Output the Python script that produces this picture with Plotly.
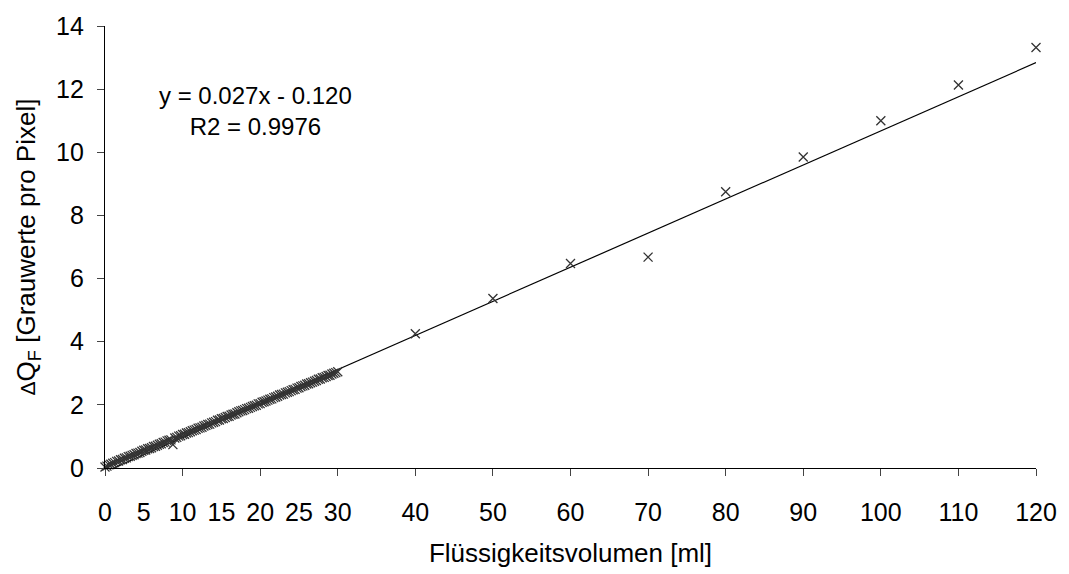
import plotly.graph_objects as go

# Messwerte: x in Messeinheiten (4 Einheiten = 1 ml), y = Delta Q_F
dense_x = list(range(0, 121))
dense_y = [
    0.03, 0.06, 0.10, 0.12, 0.15, 0.17, 0.21, 0.22, 0.26, 0.27,
    0.31, 0.32, 0.36, 0.37, 0.40, 0.42, 0.46, 0.47, 0.49, 0.53,
    0.56, 0.57, 0.61, 0.62, 0.64, 0.68, 0.69, 0.72, 0.75, 0.77,
    0.81, 0.82, 0.86, 0.88, 0.89, 0.74, 0.95, 0.97, 1.01, 1.02,
    1.06, 1.07, 1.11, 1.12, 1.15, 1.18, 1.20, 1.22, 1.26, 1.27,
    1.29, 1.33, 1.35, 1.38, 1.39, 1.43, 1.45, 1.47, 1.51, 1.52,
    1.56, 1.57, 1.60, 1.63, 1.64, 1.68, 1.70, 1.71, 1.75, 1.78,
    1.81, 1.82, 1.85, 1.88, 1.89, 1.92, 1.95, 1.97, 1.99, 2.03,
    2.04, 2.08, 2.10, 2.12, 2.15, 2.18, 2.19, 2.23, 2.25, 2.27,
    2.31, 2.33, 2.34, 2.38, 2.40, 2.42, 2.45, 2.48, 2.49, 2.53,
    2.54, 2.58, 2.60, 2.62, 2.66, 2.67, 2.70, 2.72, 2.75, 2.77,
    2.81, 2.82, 2.86, 2.87, 2.90, 2.93, 2.94, 2.98, 3.00, 3.02,
    3.05,
]
extra_x = [160, 200, 240, 280, 320, 360, 400, 440, 480]
extra_y = [4.25, 5.37, 6.48, 6.68, 8.75, 9.85, 11.00, 12.13, 13.32]

# lineare Regression (Trendlinie)
slope = 0.027
intercept = -0.120
r2 = 0.9976

# Achsenbeschriftung in ml
UNITS_PER_ML = 4
tick_ml = [0, 5, 10, 15, 20, 25, 30, 40, 50, 60, 70, 80, 90, 100, 110, 120]
x_max_ml = 120

FONT = "Arial, Liberation Sans, sans-serif"
x_all = dense_x + extra_x
y_all = dense_y + extra_y
x_end = x_max_ml * UNITS_PER_ML

fig = go.Figure()

fig.add_trace(go.Scatter(
    x=[0, x_end],
    y=[intercept, slope * x_end + intercept],
    mode="lines",
    line=dict(color="black", width=1.2),
    showlegend=False,
    hoverinfo="skip",
))

fig.add_trace(go.Scatter(
    x=x_all, y=y_all,
    mode="markers",
    marker=dict(symbol="x-thin", size=9,
                line=dict(color="#333333", width=1.3)),
    cliponaxis=False,
    showlegend=False,
))

# Hilfsachse nur fuer die Teilstriche im 10-ml-Raster
fig.add_trace(go.Scatter(x=[], y=[], xaxis="x2", showlegend=False,
                         hoverinfo="skip"))

fig.add_annotation(
    x=77.5, y=11.3, xref="x", yref="y",
    text=f"y = {slope:.3f}x - {abs(intercept):.3f}<br>R2 = {r2:.4f}",
    showarrow=False, align="center",
    font=dict(family=FONT, size=24, color="black"),
)

fig.update_layout(
    width=1069, height=574,
    margin=dict(l=105, r=29, t=21, b=102),
    paper_bgcolor="white", plot_bgcolor="white",
    font=dict(family=FONT, color="black"),
    xaxis=dict(
        range=[0, x_end],
        tickmode="array",
        tickvals=[m * UNITS_PER_ML for m in tick_ml],
        ticktext=[str(m) for m in tick_ml],
        ticks="",
        showline=True, linecolor="black", linewidth=1.2,
        showgrid=False, zeroline=False,
        tickfont=dict(family=FONT, size=25, color="black"),
        ticklabelstandoff=22,
        title=dict(text="Flüssigkeitsvolumen [ml]",
                   font=dict(family=FONT, size=26, color="black"),
                   standoff=18),
    ),
    xaxis2=dict(
        range=[0, x_end], overlaying="x", anchor="y", side="bottom",
        tickmode="linear", tick0=0, dtick=10 * UNITS_PER_ML,
        ticks="outside", ticklen=7, tickwidth=1.2, tickcolor="#444444",
        showticklabels=False, showgrid=False, zeroline=False,
        showline=False,
    ),
    yaxis=dict(
        range=[0, 14], dtick=2,
        ticks="outside", ticklen=7, tickwidth=1.2, tickcolor="#444444",
        showline=True, linecolor="black", linewidth=1.2,
        showgrid=False, zeroline=False,
        tickfont=dict(family=FONT, size=25, color="black"),
        ticklabelstandoff=8,
        title=dict(text="<span style='font-size:21px'>Δ</span>Q<sub>F</sub> [Grauwerte pro Pixel]",
                   font=dict(family=FONT, size=26, color="black"),
                   standoff=12),
    ),
)

fig.write_html("out.html")
